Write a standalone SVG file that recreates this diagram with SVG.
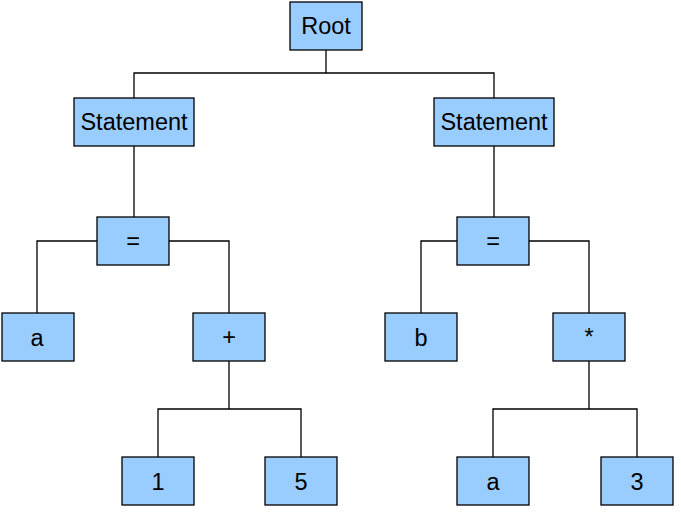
<svg xmlns="http://www.w3.org/2000/svg" width="681" height="514" viewBox="0 0 681 514">
<style>
.n rect{fill:#99ccff;stroke:#000;stroke-width:1.3}
.n text{font-family:"Liberation Sans",Arial,sans-serif;font-size:23.5px;fill:#000;text-anchor:middle}
#edges path{fill:none;stroke:#000;stroke-width:1.3}
</style>
<rect width="681" height="514" fill="#fff"/>
<g id="edges">
<path d="M326,50V73M134,98V73H494V98"/>
<path d="M134,146V217"/>
<path d="M494,146V217"/>
<path d="M97,241H37V313M169,241H229V313"/>
<path d="M457,241H421V313M529,241H589V313"/>
<path d="M229,361V409M158,457V409H301V457"/>
<path d="M589,361V409M493,457V409H637V457"/>
</g>
<g id="root" class="n"><rect x="290" y="2" width="72" height="48"/><text x="326" y="34">Root</text></g>
<g id="stmt1" class="n"><rect x="74" y="98" width="120" height="48"/><text x="134" y="130">Statement</text></g>
<g id="stmt2" class="n"><rect x="434" y="98" width="120" height="48"/><text x="494" y="130">Statement</text></g>
<g id="eq1" class="n"><rect x="97" y="217" width="72" height="48"/><text x="133" y="249">=</text></g>
<g id="eq2" class="n"><rect x="457" y="217" width="72" height="48"/><text x="493" y="249">=</text></g>
<g id="a1" class="n"><rect x="2" y="313" width="72" height="48"/><text x="37" y="346">a</text></g>
<g id="plus" class="n"><rect x="193" y="313" width="72" height="48"/><text x="229" y="345">+</text></g>
<g id="b" class="n"><rect x="385" y="313" width="72" height="48"/><text x="421" y="346">b</text></g>
<g id="mul" class="n"><rect x="553" y="313" width="72" height="48"/><text x="589" y="345">*</text></g>
<g id="one" class="n"><rect x="122" y="457" width="72" height="48"/><text x="158" y="490">1</text></g>
<g id="five" class="n"><rect x="265" y="457" width="72" height="48"/><text x="301" y="490">5</text></g>
<g id="a2" class="n"><rect x="457" y="457" width="72" height="48"/><text x="493" y="490">a</text></g>
<g id="three" class="n"><rect x="601" y="457" width="72" height="48"/><text x="637" y="490">3</text></g>
</svg>
